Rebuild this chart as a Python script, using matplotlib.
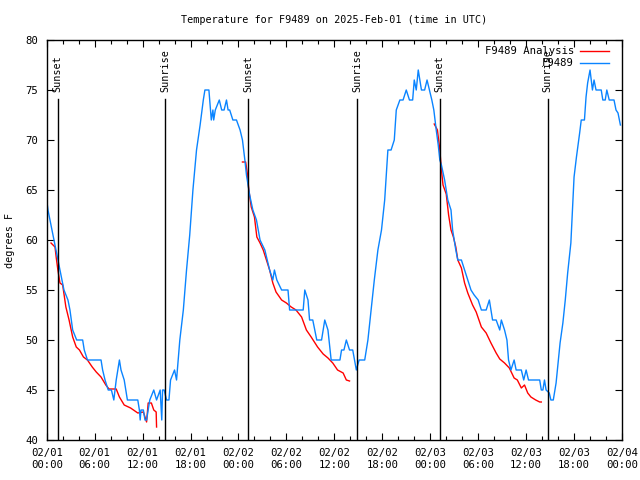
import numpy as np
import matplotlib
matplotlib.use("Agg")
import matplotlib.pyplot as plt
import matplotlib.dates as mdates

plt.rcParams['font.family'] = ['DejaVu Sans Mono']

BASE = np.datetime64('2025-02-01T00:00')

# Observed station temperature (hours since 02/01 00:00 UTC, deg F)
obs_hours = [0.0, 0.16, 0.41, 0.66, 0.91, 1.16, 1.41, 1.66, 1.91, 2.16, 2.66, 2.91, 3.25, 3.75, 4.5, 4.7,
             5.1, 6.8, 7.0, 7.3, 7.7, 8.1, 8.4, 8.7, 9.1, 9.3, 9.7, 10.1, 11.4, 11.6, 11.7, 11.8,
             12.1, 12.3, 12.5, 12.9, 13.4, 13.75, 14.2, 14.4, 14.5, 14.7, 15.0, 15.3, 15.5, 16.0,
             16.25, 16.45, 16.66, 17.1, 17.5, 17.9, 18.3, 18.75, 19.2, 19.6, 19.8, 20.3, 20.6, 20.8,
             20.9, 21.1, 21.6, 21.9, 22.2, 22.5, 22.7, 22.9, 23.3, 23.75, 24.2, 24.5, 24.8, 25.0,
             25.4, 25.8, 26.25, 26.7, 27.3, 27.9, 28.3, 28.5, 28.8, 29.4, 30.2, 30.4, 32.1, 32.3,
             32.7, 32.9, 33.3, 33.8, 34.4, 34.8, 35.2, 35.6, 36.7, 36.9, 37.2, 37.5, 37.9, 38.3,
             38.75, 39.1, 39.8, 40.2, 40.6, 41.0, 41.45, 41.9, 42.3, 42.7, 43.1, 43.5, 43.75, 44.2,
             44.6, 45.0, 45.4, 45.8, 46.0, 46.25, 46.5, 46.9, 47.3, 47.6, 47.9, 48.2, 48.45, 48.75,
             49.0, 49.2, 49.4, 49.8, 50.2, 50.6, 50.8, 51.2, 51.45, 51.9, 52.3, 52.7, 53.1, 53.5,
             54.0, 54.4, 54.8, 55.0, 55.4, 55.8, 56.25, 56.7, 56.9, 57.3, 57.6, 57.8, 58.1, 58.5,
             58.75, 59.4, 59.7, 60.0, 60.3, 61.7, 61.9, 62.1, 62.3, 62.5, 62.9, 63.1, 63.4, 63.75,
             63.95, 64.25, 64.6, 64.9, 65.2, 65.6, 65.8, 66.0, 66.3, 66.7, 66.9, 67.3, 67.5, 67.7,
             68.0, 68.3, 68.5, 68.75, 69.4, 69.6, 69.9, 70.1, 70.4, 71.0, 71.25, 71.5, 71.8]
obs_temps = [64, 63, 62, 61, 60, 59, 58, 57, 56, 55, 54, 53, 51, 50, 50, 49,
             48, 48, 47, 46, 45, 45, 44, 46, 48, 47, 46, 44, 44, 43, 42, 43,
             43, 42, 42, 44, 45, 44, 45, 42, 45, 45, 44, 44, 46, 47,
             46, 48, 50, 53, 57, 60.5, 65, 69, 71.5, 74, 75, 75, 72, 73,
             72, 73, 74, 73, 73, 74, 73, 73, 72, 72, 71, 70, 68, 66.5,
             64.5, 63, 62, 60, 59, 57, 56, 57, 56, 55, 55, 53, 53, 55,
             54, 52, 52, 50, 50, 52, 51, 48, 48, 49, 49, 50, 49, 49,
             47, 48, 48, 50, 53, 56, 59, 61, 64, 69, 69, 70, 73, 74,
             74, 75, 74, 74, 76, 75, 77, 75, 75, 76, 75, 74, 73, 71,
             69.5, 68, 67.5, 66, 64, 63, 61, 59, 58, 58, 57, 56, 55, 54.5,
             54, 53, 53, 53, 54, 52, 52, 51, 52, 51, 50, 48, 47, 48,
             47, 47, 46, 47, 46, 46, 45, 45, 46, 45, 44.7, 44, 44, 45.7,
             47.3, 49.7, 51.7, 54, 56.7, 59.7, 63, 66.3, 68.3, 70.7, 72, 72, 74.3, 75.7,
             77, 75, 76, 75, 75, 74, 74, 75, 74, 74, 73, 72.7, 71.5]

# Analysis series, one segment per night
ana1_hours = [0.54, 1.04, 1.2, 1.4, 1.66, 2.0, 2.4, 2.8, 3.25, 3.7, 4.1, 4.6, 5.1, 5.7, 6.2, 6.8,
              7.4, 7.8, 8.2, 8.7, 9.1, 9.7, 10.5, 11.4, 12.1, 12.5, 12.7, 13.1, 13.4, 13.7, 13.75]
ana1_temps = [59.7, 59.3, 58.2, 57.0, 55.7, 55.5, 53.3, 52.0, 50.3, 49.3, 49.0, 48.3, 48.0, 47.3, 46.8, 46.3,
              45.5, 45.1, 45.1, 45.1, 44.3, 43.5, 43.2, 42.7, 42.8, 41.8, 43.7, 43.7, 43.0, 42.8, 41.3]
ana2_hours = [24.5, 24.9, 25.1, 25.3, 25.6, 26.0, 26.3, 26.7, 27.1, 27.5, 27.9, 28.3, 28.7, 29.4, 30.0,
              30.6, 31.2, 31.9, 32.5, 33.1, 33.9, 34.6, 35.2, 35.8, 36.4, 37.1, 37.5, 37.9]
ana2_temps = [67.8, 67.8, 66.7, 65.0, 63.3, 62.3, 60.3, 59.7, 59.0, 58.0, 57.0, 55.7, 54.8, 54.0, 53.7,
              53.3, 53.0, 52.3, 51.0, 50.3, 49.3, 48.6, 48.2, 47.7, 47.0, 46.7, 46.0, 45.9]
ana3_hours = [48.5, 48.9, 49.2, 49.4, 49.6, 50.0, 50.3, 50.6, 50.9, 51.2, 51.45, 51.9, 52.3, 52.7, 53.3,
              53.75, 54.4, 55.0, 55.6, 56.25, 56.7, 57.3, 57.9, 58.5, 58.9, 59.4, 59.8, 60.2, 60.6, 61.2,
              61.7, 61.9]
ana3_temps = [71.6, 71.0, 69.0, 67.0, 65.5, 64.6, 62.5, 61.0, 60.3, 59.3, 58.0, 57.2, 55.7, 54.7, 53.5,
              52.8, 51.3, 50.7, 49.7, 48.7, 48.1, 47.7, 47.2, 46.2, 46.0, 45.2, 45.5, 44.7, 44.3, 44.0,
              43.8, 43.8]

# Sun events (hours since start)
event_hours = [1.375, 14.83, 25.2, 38.83, 49.2, 62.7]
event_labels = ['Sunset', 'Sunrise', 'Sunset', 'Sunrise', 'Sunset', 'Sunrise']


def to_time(h):
    return BASE + (np.array(h) * 3600).astype('timedelta64[s]')


FS = 7.3

fig = plt.figure(figsize=(6.4, 4.8), dpi=100)
ax = fig.add_axes([46.7 / 640, 40 / 480, (622 - 46.7) / 640, 400 / 480])

red = '#ff0000'
blue = '#0a84ff'
ax.plot(to_time(ana1_hours), ana1_temps, color=red, lw=1.0, label='F9489 Analysis')
ax.plot(to_time(ana2_hours), ana2_temps, color=red, lw=1.0)
ax.plot(to_time(ana3_hours), ana3_temps, color=red, lw=1.0)
ax.plot(to_time(obs_hours), obs_temps, color=blue, lw=1.0, label='F9489')

for h, lab in zip(event_hours, event_labels):
    t = to_time(h)
    ax.plot([t, t], [40, 74.1], color='black', lw=1.0, zorder=3)
    ax.text(t, 74.8, lab, rotation=90, ha='center', va='bottom', fontsize=FS, zorder=3)

ax.set_xlim(to_time(0), to_time(72))
ax.set_ylim(40, 80)
ax.set_yticks(np.arange(40, 81, 5))
ax.xaxis.set_major_locator(mdates.HourLocator(byhour=[0, 6, 12, 18]))
ax.xaxis.set_minor_locator(mdates.HourLocator(interval=2))
ax.xaxis.set_major_formatter(mdates.DateFormatter('%m/%d\n%H:%M'))
ax.tick_params(axis='both', which='major', direction='in', length=5, width=0.8,
               top=True, right=True, labelsize=FS + 0.4)
ax.tick_params(axis='x', which='minor', direction='in', length=3, width=0.8, top=True)
ax.tick_params(axis='x', which='major', pad=6)
ax.tick_params(axis='y', which='major', pad=6)
for s in ax.spines.values():
    s.set_linewidth(1.0)

ax.set_title('Temperature for F9489 on 2025-Feb-01 (time in UTC)', fontsize=FS, pad=12)
fig.text(10 / 640, 0.5, 'degrees F', rotation=90, ha='center', va='center', fontsize=FS)

leg = ax.legend(loc='upper right', frameon=False, markerfirst=False, fontsize=FS + 0.4,
                handlelength=2.7, handletextpad=0.6, labelspacing=0.2,
                borderaxespad=0.0, bbox_to_anchor=(0.985, 0.995))
leg.set_zorder(5)

fig.savefig('out.png', dpi=100)
